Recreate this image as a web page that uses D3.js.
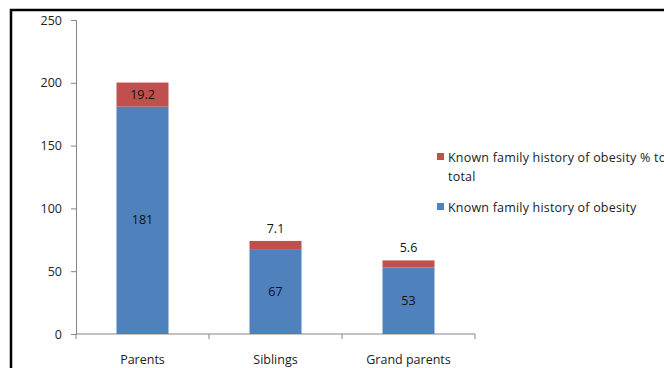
<!DOCTYPE html>
<html>
<head>
<meta charset="utf-8">
<script src="https://cdn.jsdelivr.net/npm/d3@7"></script>
<style>
body { margin: 0; background: #fff; }
svg { display: block; font-family: "Open Sans", "Liberation Sans", Arial, sans-serif; }
</style>
</head>
<body>
<div id="chartplace"></div>
<script>
// data
var categories = ["Parents", "Siblings", "Grand parents"];
var historyCount = [181, 67, 53];        // Known family history of obesity
var historyPct = [19.2, 7.1, 5.6];       // Known family history of obesity % to total
var yTicks = [0, 50, 100, 150, 200, 250];
var seriesNames = ["Known family history of obesity % to total", "Known family history of obesity"];

var width = 664, height = 368;
var blue = "#4f81bd", red = "#c0504d";
var fs = 12.5;

var svg = d3.select("#chartplace").append("svg")
	.attr("width", width).attr("height", height);

// frame round the chart (runs off the right and bottom)
svg.append("rect")
	.attr("x", 11).attr("y", 10)
	.attr("width", 700).attr("height", 400)
	.attr("fill", "none")
	.attr("stroke", "#000")
	.attr("stroke-width", 2.5);

var y = d3.scaleLinear().domain([0, 250]).range([334, 20]);

// y axis
var yAxis = svg.append("g")
	.attr("transform", "translate(76,0)")
	.call(d3.axisLeft(y).tickValues(yTicks).tickSize(5).tickPadding(9));
yAxis.select(".domain").attr("stroke", "#868686");
yAxis.selectAll(".tick line").attr("stroke", "#868686");
yAxis.selectAll(".tick text").attr("font-size", fs).attr("fill", "#222").attr("font-family", "Open Sans, Arial");

// x axis: ticks sit between categories
var xb = d3.scaleLinear().domain([0, categories.length]).range([76, 475]);
var xAxis = svg.append("g").attr("transform", "translate(0,334)");
xAxis.append("line").attr("x1", 76).attr("x2", 475).attr("stroke", "#868686");
xAxis.selectAll(".tk").data(d3.range(categories.length + 1)).enter().append("line")
	.attr("x1", function(d){ return xb(d); })
	.attr("x2", function(d){ return xb(d); })
	.attr("y1", 0).attr("y2", 5)
	.attr("stroke", "#868686");
xAxis.selectAll(".lab").data(categories).enter().append("text")
	.attr("x", function(d, i){ return xb(i + 0.5); })
	.attr("y", 30)
	.attr("text-anchor", "middle")
	.attr("font-size", fs)
	.attr("fill", "#222")
	.text(function(d){ return d; });

var bw = 52;
function cx(i){ return xb(i + 0.5); }

// blue segments
svg.selectAll(".blue").data(historyCount).enter().append("rect")
	.attr("x", function(d, i){ return cx(i) - bw / 2; })
	.attr("y", function(d){ return y(d); })
	.attr("width", bw)
	.attr("height", function(d){ return y(0) - y(d); })
	.attr("fill", blue);

// red segments stacked on top
svg.selectAll(".red").data(historyPct).enter().append("rect")
	.attr("x", function(d, i){ return cx(i) - bw / 2; })
	.attr("y", function(d, i){ return y(historyCount[i] + d); })
	.attr("width", bw)
	.attr("height", function(d, i){ return y(historyCount[i]) - y(historyCount[i] + d); })
	.attr("fill", red);

// labels
svg.selectAll(".bl").data(historyCount).enter().append("text")
	.attr("x", function(d, i){ return cx(i); })
	.attr("y", function(d){ return (y(0) + y(d)) / 2 + 4; })
	.attr("text-anchor", "middle")
	.attr("font-size", fs)
	.attr("fill", "#111")
	.text(function(d){ return d; });

svg.selectAll(".rl").data(historyPct).enter().append("text")
	.attr("x", function(d, i){ return cx(i); })
	.attr("y", function(d, i){
		var top = y(historyCount[i] + d), bot = y(historyCount[i]);
		if (bot - top > 14) return (top + bot) / 2 + 4;
		return top - 8;
	})
	.attr("text-anchor", "middle")
	.attr("font-size", fs)
	.attr("fill", "#111")
	.text(function(d){ return d; });

// legend
var legend = svg.append("g").attr("font-size", fs).attr("fill", "#222").attr("letter-spacing", 0.2);
legend.append("rect").attr("x", 437).attr("y", 153).attr("width", 7).attr("height", 7).attr("fill", red);
legend.append("text").attr("x", 448).attr("y", 162).text("Known family history of obesity % to");
legend.append("text").attr("x", 448).attr("y", 181).text("total");
legend.append("rect").attr("x", 437).attr("y", 203).attr("width", 7).attr("height", 7).attr("fill", blue);
legend.append("text").attr("x", 448).attr("y", 212).text(seriesNames[1]);
</script>
</body>
</html>
